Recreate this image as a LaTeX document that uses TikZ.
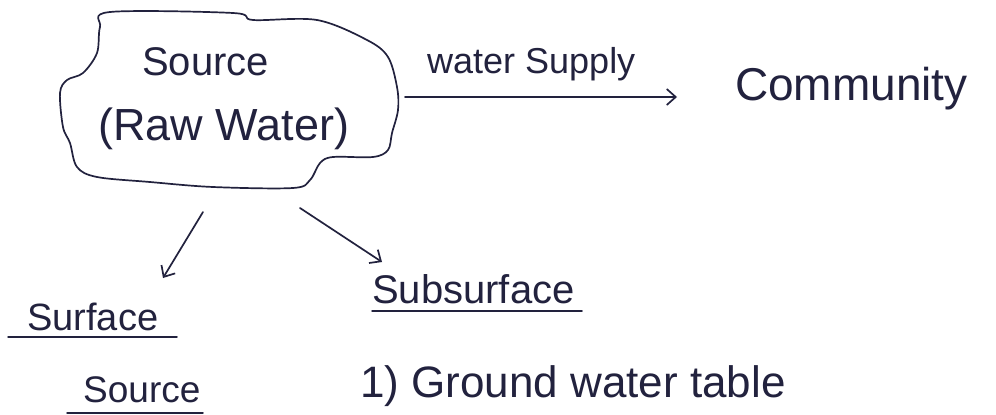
\documentclass[tikz,border=0pt]{standalone}
\usepackage{fontspec}
\setmainfont{Liberation Sans}
\usetikzlibrary{arrows.meta}
\definecolor{ink}{RGB}{34,34,62}
\tikzset{
  pen/.style={draw=ink, line width=1.7pt, line cap=round, line join=round},
  arr/.style={pen, -{Straight Barb[length=9pt, width=16pt, line width=1.7pt]}},
  txt/.style={text=ink, inner sep=0pt, anchor=base west},
  uline/.style={pen, line width=1.5pt}
}
\begin{document}
\begin{tikzpicture}[x=1pt, y=-1pt]
\useasboundingbox[fill=white] (0,0) rectangle (996,415);
% cloud outline
\draw[pen] plot[smooth cycle, tension=0.55] coordinates {
 (110,12) (233,13) (253,20) (317,20) (367,40) (388,57) (397,87) (398,110)
 (392,133) (388,150) (373,157) (333,157) (320,163) (310,180) (293,188)
 (213,187) (150,182) (97,177) (77,167) (70,143) (63,127) (60,93) (67,80)
 (83,73) (97,53) (100,27)};
% texts
\node[txt, font=\fontsize{40}{44}\selectfont] (src1) at (142,75) {Source};
\node[txt, font=\fontsize{45}{50}\selectfont] (src2) at (98,140) {(Raw Water)};
\node[txt, font=\fontsize{36}{40}\selectfont] (ws) at (427,73) {water Supply};
\node[txt, font=\fontsize{46}{50}\selectfont] (comm) at (735,100) {Community};
\node[txt, font=\fontsize{38}{42}\selectfont] (surf) at (27,330) {Surface};
\node[txt, font=\fontsize{37}{41}\selectfont] (surfsrc) at (83,402) {Source};
\node[txt, font=\fontsize{40}{44}\selectfont] (sub) at (372,303) {Subsurface};
\node[txt, font=\fontsize{44}{48}\selectfont] (gwt) at (360,397) {1) Ground water table};
% connector end points
\coordinate (cE) at (405,97);
\coordinate (tipC) at (677,97);
\coordinate (l1) at (203,212);
\coordinate (l2) at (163,278);
\coordinate (r1) at (300,208);
\coordinate (r2) at (382,262);
% arrows
\draw[arr] (cE) -- (tipC);
\draw[arr] (l1) -- (l2);
\draw[arr] (r1) -- (r2);
% underlines
\coordinate (u1a) at (8,337);   \coordinate (u1b) at (177,337);
\coordinate (u2a) at (67,413);  \coordinate (u2b) at (203,413);
\coordinate (u3a) at (372,311); \coordinate (u3b) at (582,311);
\draw[uline] (u1a) -- (u1b);
\draw[uline] (u2a) -- (u2b);
\draw[uline] (u3a) -- (u3b);
\end{tikzpicture}
\end{document}
